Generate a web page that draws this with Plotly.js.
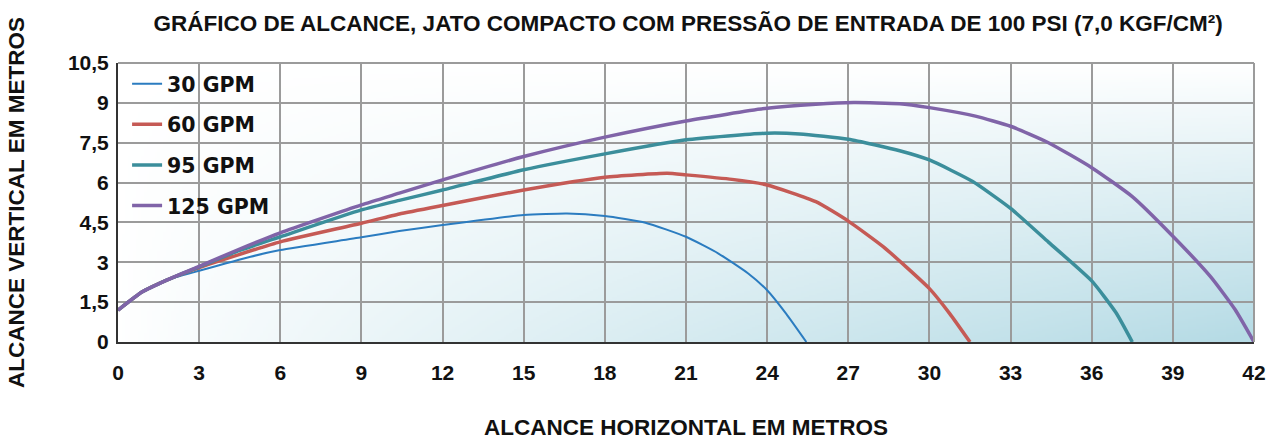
<!DOCTYPE html>
<html>
<head>
<meta charset="utf-8">
<script src="https://cdn.plot.ly/plotly-3.0.1.min.js"></script>
<style>
  html, body { margin: 0; padding: 0; background: #ffffff; }
  #chart { width: 1279px; height: 441px; }
</style>
</head>
<body>
<div id="chart"></div>
<script>
// ---- data ----
const seriesNames = ["30 GPM", "60 GPM", "95 GPM", "125 GPM"];

const x30 = [0, 0.9, 1.8, 3, 4.9, 6, 9, 10.4, 12, 15, 16.6, 18, 19.5, 21, 22.2, 23.3, 24, 24.7, 25.45];
const y30 = [1.2, 1.89, 2.33, 2.68, 3.21, 3.46, 3.94, 4.18, 4.40, 4.78, 4.84, 4.74, 4.49, 3.96, 3.33, 2.58, 1.95, 1.07, 0];

const x60 = [0, 0.9, 1.8, 3, 4.5, 6, 9, 10.4, 12, 15, 18, 20.3, 21, 22.7, 24, 25.8, 27, 28.3, 30, 30.75, 31.5];
const y60 = [1.2, 1.89, 2.33, 2.8, 3.3, 3.77, 4.47, 4.82, 5.14, 5.72, 6.20, 6.35, 6.29, 6.12, 5.91, 5.28, 4.55, 3.58, 2.01, 1.07, 0];

const x95 = [0, 0.9, 1.8, 3, 4.5, 6, 9, 10.4, 12, 15, 18, 21, 24, 25.2, 27, 28.9, 30, 31.6, 33, 34.4, 36, 36.9, 37.5];
const y95 = [1.2, 1.89, 2.33, 2.83, 3.45, 3.96, 4.97, 5.33, 5.72, 6.48, 7.08, 7.61, 7.86, 7.83, 7.63, 7.2, 6.85, 6.04, 5.03, 3.76, 2.3, 1.1, 0];

const x125 = [0, 0.9, 1.8, 3, 4.5, 6, 9, 10.4, 12, 15, 18, 21, 24, 25.8, 27.2, 28.9, 30, 31.7, 33, 34.4, 36, 37.5, 39, 40.4, 41.3, 42];
const y125 = [1.2, 1.89, 2.33, 2.85, 3.5, 4.11, 5.16, 5.6, 6.1, 6.98, 7.71, 8.32, 8.80, 8.95, 9.01, 8.97, 8.82, 8.5, 8.12, 7.5, 6.56, 5.47, 3.98, 2.45, 1.22, 0];

const xTickVals = [0, 3, 6, 9, 12, 15, 18, 21, 24, 27, 30, 33, 36, 39, 42];
const xTickText = ["0", "3", "6", "9", "12", "15", "18", "21", "24", "27", "30", "33", "36", "39", "42"];
const yTickVals = [0, 1.5, 3, 4.5, 6, 7.5, 9, 10.5];
const yTickText = ["0", "1,5", "3", "4,5", "6", "7,5", "9", "10,5"];

// ---- styling ----
const colors = ["#2b7cc0", "#c55a55", "#3b8e9b", "#8064a8"];
const widths = [2, 3.5, 3.5, 3.5];
const xs = [x30, x60, x95, x125];
const ys = [y30, y60, y95, y125];

// gradient background image for the plot area
function makeBg() {
  const w = 420, h = 140;
  const c = document.createElement("canvas");
  c.width = w; c.height = h;
  const ctx = c.getContext("2d");
  const img = ctx.createImageData(w, h);
  const top = [255, 255, 255];
  const end = [182, 219, 229];
  for (let j = 0; j < h; j++) {
    const yf = j / (h - 1);
    for (let i = 0; i < w; i++) {
      const xf = i / (w - 1);
      let t = Math.pow(xf, 0.85) * Math.pow(yf, 0.95);
      t = Math.min(1, t * 1.02);
      const k = (j * w + i) * 4;
      img.data[k] = top[0] + (end[0] - top[0]) * t;
      img.data[k + 1] = top[1] + (end[1] - top[1]) * t;
      img.data[k + 2] = top[2] + (end[2] - top[2]) * t;
      img.data[k + 3] = 255;
    }
  }
  ctx.putImageData(img, 0, 0);
  return c.toDataURL("image/png");
}

const FONT = "Liberation Sans, Arial, sans-serif";
const LFONT = "DejaVu Sans, Liberation Sans, sans-serif";

const traces = seriesNames.map((n, i) => ({
  type: "scatter",
  mode: "lines",
  name: n,
  legendgroup: "g" + i,
  x: xs[i],
  y: ys[i],
  line: { color: colors[i], width: widths[i], shape: "spline", smoothing: 0.5 },
  hoverinfo: "x+y+name"
}));

const layout = {
  width: 1279,
  height: 441,
  margin: { l: 118, r: 25, t: 63, b: 99 },
  paper_bgcolor: "#ffffff",
  plot_bgcolor: "rgba(0,0,0,0)",
  showlegend: true,
  title: {
    text: "GRÁFICO DE ALCANCE, JATO COMPACTO COM PRESSÃO DE ENTRADA DE 100 PSI (7,0 KGF/CM²)",
    font: { family: FONT, size: 22.5, weight: "bold", color: "#111111" },
    x: 0.538, xanchor: "center",
    y: 0.947, yanchor: "middle", yref: "container"
  },
  xaxis: {
    range: [0, 42],
    tickmode: "array",
    tickvals: xTickVals,
    ticktext: xTickText,
    showgrid: true,
    gridcolor: "#9b9b9b",
    gridwidth: 1.5,
    zeroline: false,
    showline: true,
    linecolor: "#333333",
    linewidth: 2,
    ticks: "",
    ticklabelstandoff: 11,
    tickfont: { family: FONT, size: 21, weight: "bold", color: "#111111" },
    title: {
      text: "ALCANCE HORIZONTAL EM METROS",
      font: { family: FONT, size: 22.5, weight: "bold", color: "#111111" },
      standoff: 36
    },
    fixedrange: true
  },
  yaxis: {
    range: [0, 10.5],
    tickmode: "array",
    tickvals: yTickVals,
    ticktext: yTickText,
    showgrid: true,
    gridcolor: "#9b9b9b",
    gridwidth: 1.5,
    zeroline: false,
    showline: true,
    linecolor: "#333333",
    linewidth: 2,
    ticks: "",
    ticklabelstandoff: 3,
    tickfont: { family: FONT, size: 21, weight: "bold", color: "#111111" },
    title: {
      text: "ALCANCE VERTICAL EM METROS",
      font: { family: FONT, size: 22.5, weight: "bold", color: "#111111" },
      standoff: 37
    },
    fixedrange: true
  },
  legend: {
    x: 0.008, xanchor: "left",
    y: 0.997, yanchor: "top",
    bgcolor: "rgba(0,0,0,0)",
    borderwidth: 0,
    tracegroupgap: 11,
    font: { family: LFONT, size: 20.5, weight: "bold", color: "#111111" }
  },
  images: [{
    source: makeBg(),
    xref: "paper", yref: "paper",
    x: 0, y: 1, sizex: 1, sizey: 1,
    xanchor: "left", yanchor: "top",
    sizing: "stretch",
    layer: "below"
  }],
  shapes: [
    { type: "line", xref: "paper", yref: "paper", x0: 0, x1: 1, y0: 1, y1: 1, line: { color: "#9b9b9b", width: 2 } },
    { type: "line", xref: "paper", yref: "paper", x0: 1, x1: 1, y0: 0, y1: 1, line: { color: "#9b9b9b", width: 2 } }
  ]
};

Plotly.newPlot("chart", traces, layout, { displayModeBar: false, staticPlot: false });
</script>
</body>
</html>
